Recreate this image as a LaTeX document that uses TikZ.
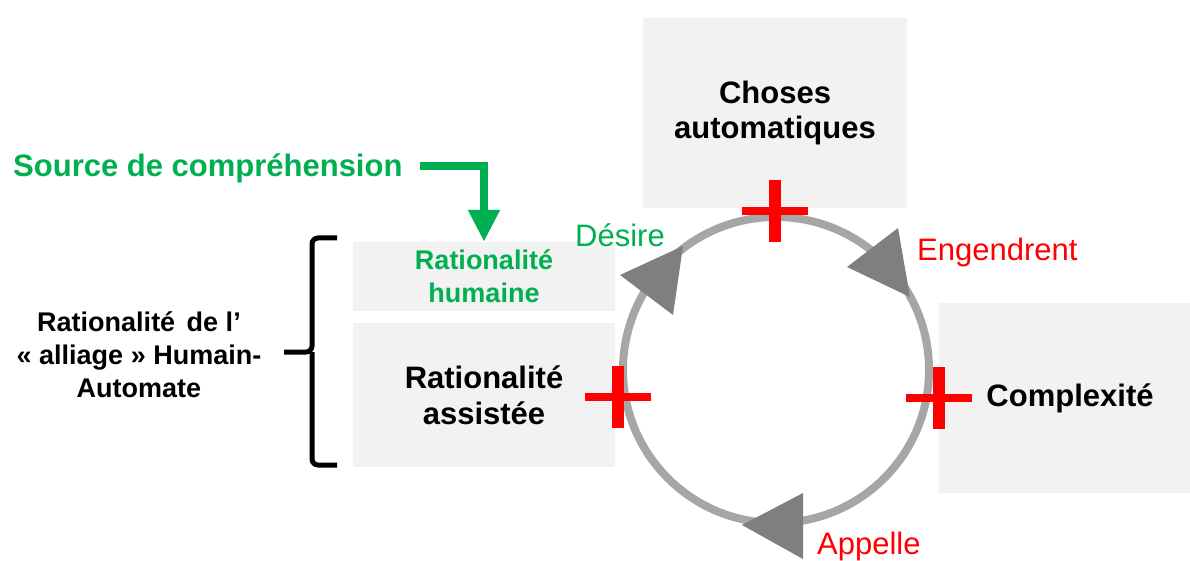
\documentclass[tikz,border=0pt]{standalone}
\usepackage{fontspec}
\setmainfont{Liberation Sans}
\usetikzlibrary{arrows.meta}

\definecolor{boxgray}{HTML}{F2F2F2}
\definecolor{vert}{HTML}{00B050}
\definecolor{rouge}{HTML}{FF0000}
\definecolor{cercle}{HTML}{A6A6A6}
\definecolor{pointe}{HTML}{7F7F7F}

\begin{document}
\begin{tikzpicture}[x=1pt, y=-1pt,
  box/.style={fill=boxgray, align=center, inner sep=0pt, font=\bfseries\fontsize{31}{36}\selectfont},
  verb/.style={anchor=base west, inner sep=0pt, font=\fontsize{31}{36}\selectfont},
  plusbar/.style={draw=rouge, line width=8pt},
  greenarrow/.style={draw=vert, line width=8pt, -{Triangle[width=30pt, length=32pt]}},
]
  \useasboundingbox (0,0) rectangle (1190,561);

  % boxes
  \node[box, minimum width=264pt, minimum height=190pt,
        font=\bfseries\fontsize{31}{35}\selectfont] (choses) at (775,113) {Choses\\automatiques};
  \node[box, minimum width=262pt, minimum height=69pt, text=vert,
        font=\bfseries\fontsize{27}{33}\selectfont] (humaine) at (484,276.5) {Rationalité\\humaine};
  \node[box, minimum width=262pt, minimum height=144pt] (assistee) at (484,395) {Rationalité\\assistée};
  \node[box, minimum width=262pt, minimum height=190pt] (complexite) at (1070,398) {Complexité};

  % left part
  \node[align=center, inner sep=0pt, font=\bfseries\fontsize{27}{33}\selectfont] (alliage) at (139,355)
    {Rationalité\hspace{4pt} de l’\\« alliage » Humain-\\Automate};
  \draw[line width=5pt, rounded corners=6pt] (337,238) -| (312,352) -- (284,352);
  \draw[line width=5pt, rounded corners=6pt] (337,465) -| (312,352);

  \node[verb, font=\bfseries\fontsize{31}{36}\selectfont, text=vert] (source) at (13,177) {Source de compréhension};
  \draw[greenarrow] ([xshift=17pt, yshift=3pt]source.east) -| (humaine.north);

  % the cycle
  \node[circle, draw=cercle, line width=8pt, minimum size=306pt, inner sep=0pt] (cycle) at (776,370) {};

  \fill[pointe] (898,228) -- (847,267) -- (910,297) -- cycle;
  \fill[pointe] (620,275) -- (683,246) -- (673,315) -- cycle;
  \fill[pointe] (742,525) -- (803,493) -- (803,559) -- cycle;

  \foreach \p in {(775,211), (618,397), (939,398)} {
    \draw[plusbar] \p ++(-33,0) -- ++(66,0);
    \draw[plusbar, line width=12pt] \p ++(0,-31) -- ++(0,62);
  }

  \node[verb, text=vert] (desire) at (575,247) {Désire};
  \node[verb, text=rouge] (engendrent) at (917,260) {Engendrent};
  \node[verb, text=rouge] (appelle) at (817,554) {Appelle};
\end{tikzpicture}
\end{document}
